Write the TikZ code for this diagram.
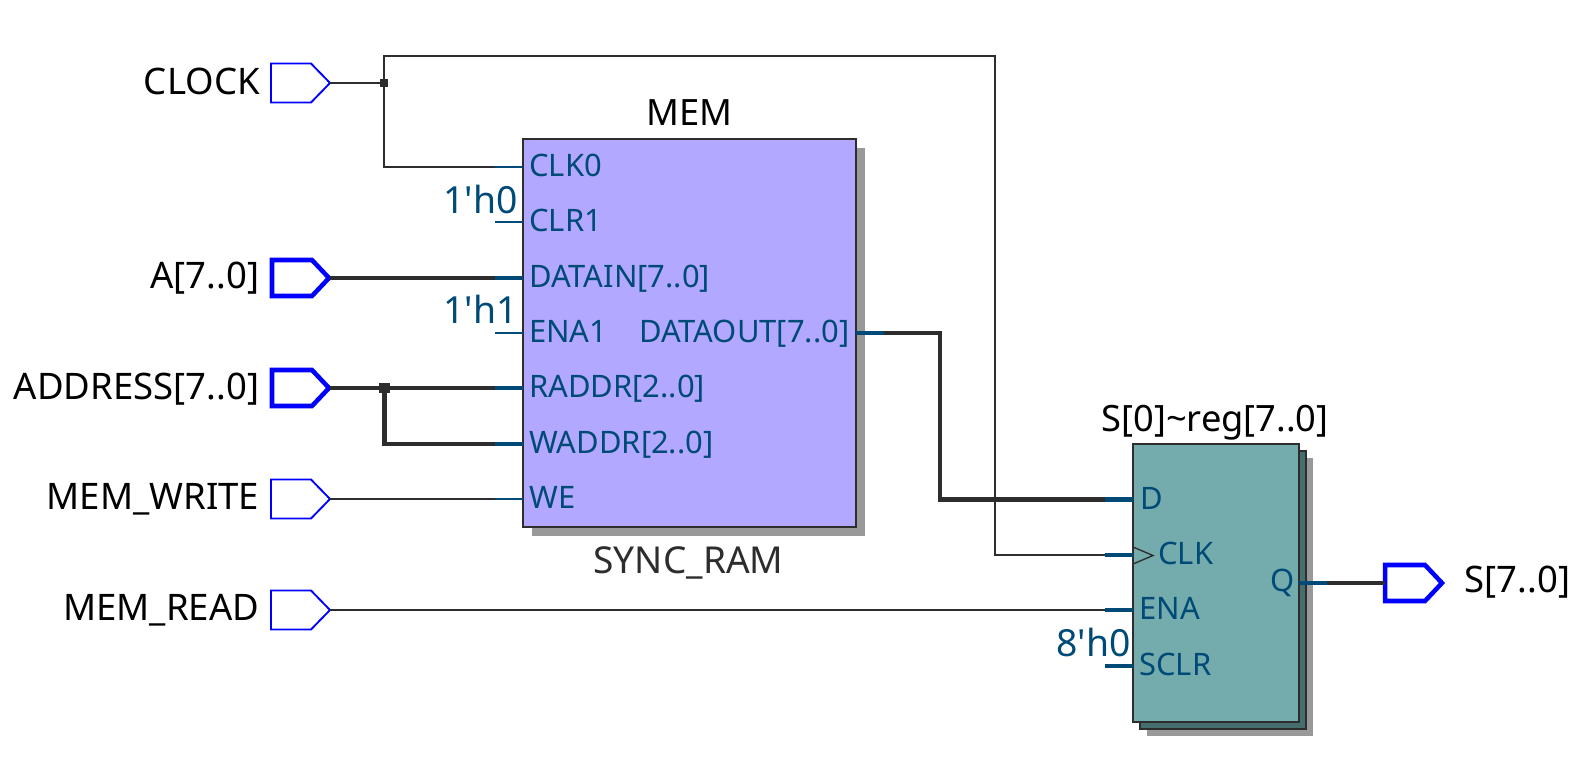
\documentclass[tikz,border=0pt]{standalone}
\usepackage{fontspec}
\setmainfont{Noto Sans}
\newfontfamily\constfont{Noto Sans}
\definecolor{wirec}{HTML}{2D2D2D}
\definecolor{stubc}{HTML}{004A77}
\definecolor{pinc}{HTML}{0000FF}
\definecolor{memc}{HTML}{B3A8FF}
\definecolor{regc}{HTML}{74ABAD}
\definecolor{regback}{HTML}{466E6E}
\definecolor{shadowc}{HTML}{999999}
\newcommand{\thinpin}[3]{%
  \draw[pinthin] (#2,#3-19.5) -- ++(40,0) -- (#2+59,#3) -- (#2+40,#3+19.5) -- (#2,#3+19.5) -- cycle;
  \coordinate (#1) at (#2+59,#3);}
\newcommand{\buspin}[3]{%
  \draw[pinbus] (#2,#3-18) -- ++(40,0) -- (#2+57,#3) -- (#2+40,#3+18) -- (#2,#3+18) -- cycle;
  \coordinate (#1) at (#2+58,#3);
  \coordinate (#1left) at (#2,#3);}
\tikzset{
  x=0.75pt,y=-0.75pt,
  pinthin/.style={draw=pinc,line width=1.4pt,fill=white,line join=miter},
  pinbus/.style={draw=pinc,line width=3.4pt,fill=white,line join=miter},
  wirethin/.style={draw=wirec,line width=1.5pt},
  wirebus/.style={draw=wirec,line width=3.3pt},
  stubthin/.style={draw=stubc,line width=1.5pt},
  stubbus/.style={draw=stubc,line width=3.5pt},
  junc/.style={fill=wirec,inner sep=0pt,minimum size=6pt,shape=rectangle},
  juncbus/.style={fill=wirec,inner sep=0pt,minimum size=8.2pt,shape=rectangle},
  blockbox/.style={shape=rectangle,draw=wirec,line width=1.5pt,inner sep=0pt},
  shadowbox/.style={shape=rectangle,fill=shadowc,inner sep=0pt},
  sig/.style={inner sep=0pt,font=\fontsize{27.4pt}{32pt}\selectfont,text=black},
  title/.style={inner sep=0pt,font=\fontsize{27.2pt}{32pt}\selectfont,text=black},
  portl/.style={inner sep=0pt,anchor=base west,font=\fontsize{23.2pt}{28pt}\selectfont,text=stubc},
  constl/.style={inner sep=0pt,anchor=base east,font=\constfont\fontsize{28pt}{32pt}\selectfont,text=stubc},
}
\begin{document}
\begin{tikzpicture}
\useasboundingbox (0,0) rectangle (1591,757);
% shadows and blocks
\node[shadowbox,minimum width=333*0.75pt,minimum height=388*0.75pt] (memshadow) at (698.5,342) {};
\node[blockbox,fill=memc,minimum width=333*0.75pt,minimum height=388*0.75pt] (mem) at (689.5,333) {};
\node[shadowbox,minimum width=166*0.75pt,minimum height=278*0.75pt] (regshadow) at (1229.5,597) {};
\node[blockbox,fill=regback,minimum width=166*0.75pt,minimum height=278*0.75pt] (regback) at (1223,590) {};
\node[blockbox,fill=regc,minimum width=166*0.75pt,minimum height=278*0.75pt] (reg) at (1216,583) {};
% pins
\thinpin{pclock}{271}{83}
\buspin{pa}{272}{278}
\buspin{paddr}{272}{388}
\thinpin{pwrite}{271}{499}
\thinpin{pread}{271}{610}
\buspin{pout}{1385}{583}
% port coordinates
\coordinate (mclk) at (523,167);
\coordinate (mclkst) at (495,167);
\coordinate (mclr) at (523,222);
\coordinate (mclrst) at (495,222);
\coordinate (mdat) at (523,278);
\coordinate (mdatst) at (495,278);
\coordinate (mena) at (523,333);
\coordinate (menast) at (495,333);
\coordinate (mra) at (523,388);
\coordinate (mrast) at (495,388);
\coordinate (mwa) at (523,444);
\coordinate (mwast) at (495,444);
\coordinate (mwe) at (523,499);
\coordinate (mwest) at (495,499);
\coordinate (mout) at (856,333);
\coordinate (moutst) at (884,333);
\coordinate (rd) at (1133,499.5);
\coordinate (rdst) at (1105,499.5);
\coordinate (rclk) at (1133,555);
\coordinate (rclkst) at (1105,555);
\coordinate (rena) at (1133,610);
\coordinate (renast) at (1105,610);
\coordinate (rsclr) at (1133,666);
\coordinate (rsclrst) at (1105,666);
\coordinate (rq) at (1299,583);
\coordinate (rqst) at (1327,583);
% junctions and bends
\coordinate (jclk) at (384,83);
\coordinate (jaddr) at (384.5,388);
\coordinate (topleft) at (384,56);
\coordinate (topright) at (995,56);
\coordinate (bendout) at (940,499.5);
% wires
\draw[wirethin,line join=miter] (jclk) -- (topleft) -- (topright) |- (rclkst);
\draw[wirethin,line join=miter] (mclkst) -| (jclk);
\draw[wirethin] (pclock) -- (jclk);
\draw[wirebus,line join=miter] (jaddr) |- (mwast);
\draw[wirebus,line join=miter] (moutst) -| (bendout) -- (rdst);
\draw[wirebus] (pa) -- (mdatst);
\draw[wirebus] (paddr) -- (mrast);
\draw[wirethin] (pwrite) -- (mwest);
\draw[wirethin] (pread) -- (renast);
\draw[wirebus] (rqst) -- (poutleft);
\node[junc] (jclkn) at (jclk) {};
\node[juncbus] (jaddrn) at (jaddr) {};
% stubs
\draw[stubthin] (mclkst) -- (mclk);
\draw[stubthin] (mclrst) -- (mclr);
\draw[stubbus] (mdatst) -- (mdat);
\draw[stubthin] (menast) -- (mena);
\draw[stubbus] (mrast) -- (mra);
\draw[stubbus] (mwast) -- (mwa);
\draw[stubthin] (mwest) -- (mwe);
\draw[stubbus] (mout) -- (moutst);
\draw[stubbus] (rdst) -- (rd);
\draw[stubbus] (rclkst) -- (rclk);
\draw[stubbus] (renast) -- (rena);
\draw[stubbus] (rsclrst) -- (rsclr);
\draw[stubbus] (rq) -- (rqst);
% clock triangle
\draw[draw=wirec,line width=1pt] (1133,547) -- (1153,555.5) -- (1133,564);
% signal labels
\node[sig,anchor=base east] (lclock) at (260,94) {CLOCK};
\node[sig,anchor=base east] (la) at (259.5,288.5) {A[7..0]};
\node[sig,anchor=base east] (laddr) at (259.5,399.5) {ADDRESS[7..0]};
\node[sig,anchor=base east] (lwrite) at (259.5,509.5) {MEM\_WRITE};
\node[sig,anchor=base east] (lread) at (259.5,620) {MEM\_READ};
\node[sig,anchor=base west] (lout) at (1464.5,592.5) {S[7..0]};
% titles
\node[title,anchor=base] (tmem) at (689.5,125.5) {MEM};
\node[title,anchor=base,text=wirec,font=\fontsize{27.8pt}{32pt}\selectfont] (tram) at (688.5,573) {SYNC\_RAM};
\node[title,anchor=base] (treg) at (1215,431) {S[0]\char`~reg[7..0]};
% port labels
\node[portl] (t1) at (529,176) {CLK0};
\node[portl] (t2) at (529,231) {CLR1};
\node[portl] (t3) at (529,287) {DATAIN[7..0]};
\node[portl] (t4) at (529,342) {ENA1};
\node[portl,anchor=base east] (t5) at (849.5,342) {DATAOUT[7..0]};
\node[portl] (t6) at (529,397.5) {RADDR[2..0]};
\node[portl] (t7) at (529,453) {WADDR[2..0]};
\node[portl] (t8) at (529,508) {WE};
\node[portl] (t9) at (1140,509) {D};
\node[portl] (t10) at (1158,564) {CLK};
\node[portl] (t11) at (1139.5,619) {ENA};
\node[portl] (t12) at (1139,675) {SCLR};
\node[portl,anchor=base east] (t13) at (1295,591.5) {Q};
\node[constl] (c1) at (518,213) {1'h0};
\node[constl] (c2) at (518,323) {1'h1};
\node[constl] (c3) at (1131,656) {8'h0};
\end{tikzpicture}
\end{document}
